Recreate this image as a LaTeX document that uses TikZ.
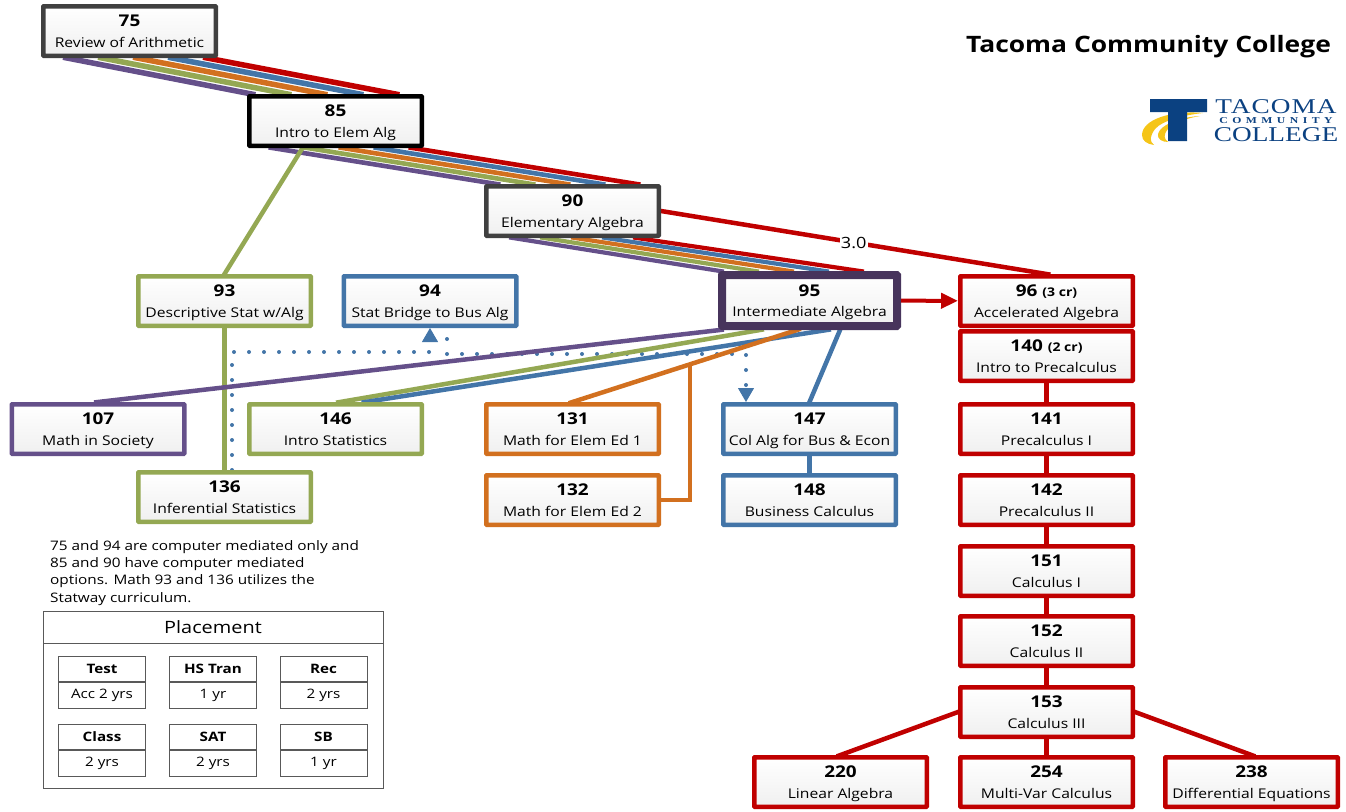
\documentclass[tikz,border=0pt]{standalone}
\usepackage{fontspec}
\setmainfont[FakeStretch=1.17]{Open Sans}
\newfontfamily\logofont[FakeStretch=1.3]{Liberation Serif}
\usetikzlibrary{arrows.meta,backgrounds,positioning}

\definecolor{ccRed}{HTML}{C00000}
\definecolor{ccBlue}{HTML}{4375A8}
\definecolor{ccOrange}{HTML}{D2701F}
\definecolor{ccOlive}{HTML}{94A853}
\definecolor{ccPurple}{HTML}{65508A}
\definecolor{ccDeep}{HTML}{47345C}
\definecolor{ccGray}{HTML}{404040}
\definecolor{ccNavy}{HTML}{0B4181}
\definecolor{ccGold}{HTML}{F5C518}

\newcommand{\course}[2]{{\fontsize{16.2}{21}\selectfont\bfseries #1}\\\smash{#2}}
\newcommand{\credits}[1]{\smash{\fontsize{12}{21}\selectfont #1}}

\tikzset{
	coursebox/.style={rectangle,draw=#1,line width=4.5pt,minimum width=172.5pt,minimum height=49.5pt,inner sep=0pt,
		align=center,top color=white,bottom color=black!6,rounded corners=.5pt,font=\fontsize{13.4}{20.6}\selectfont},
	link/.style={line width=4.5pt,shorten <=-4pt,shorten >=-4pt,#1},
	ribbon/.style={shorten <=-4pt,shorten >=-4pt,#1},
	dotted link/.style={line width=4pt,ccBlue,line cap=round,dash pattern=on 0pt off 15pt},
	cell/.style={rectangle,draw=black!65,line width=.9pt,minimum width=87pt,minimum height=25.5pt,inner sep=0pt,font=\fontsize{13}{16}\selectfont},
	cell head/.style={cell,font=\fontsize{13}{16}\selectfont\bfseries},
	panel/.style={rectangle,draw=black!65,line width=.9pt,minimum width=340pt,inner sep=0pt}
}

\begin{document}
\begin{tikzpicture}[x=1pt,y=-1pt]
	\useasboundingbox (0,0) rectangle (1346,811);

	\node[coursebox=ccGray] (n75) at (129.5,31) {\course{75}{Review of Arithmetic}};
	\node[coursebox=black] (n85) at (335.5,121) {\course{85}{Intro to Elem Alg}};
	\node[coursebox=ccGray] (n90) at (572.5,211) {\course{90}{Elementary Algebra}};
	\node[coursebox=ccOlive] (n93) at (224.5,301) {\course{93}{Descriptive Stat w/Alg}};
	\node[coursebox=ccBlue] (n94) at (430,301) {\course{94}{Stat Bridge to Bus Alg}};
	\node[coursebox=ccDeep,line width=8pt,minimum width=175pt,minimum height=51pt] (n95) at (809.5,300.5) {\course{95}{Intermediate Algebra}};
	\node[coursebox=ccRed] (n96) at (1046.5,301) {\course{96 \credits{(3 cr)}}{Accelerated Algebra}};
	\node[coursebox=ccRed] (n140) at (1046.5,356) {\course{140 \credits{(2 cr)}}{Intro to Precalculus}};
	\node[coursebox=ccPurple] (n107) at (98,429) {\course{107}{Math in Society}};
	\node[coursebox=ccOlive] (n146) at (335.5,429) {\course{146}{Intro Statistics}};
	\node[coursebox=ccOrange] (n131) at (572.5,429) {\course{131}{Math for Elem Ed 1}};
	\node[coursebox=ccBlue] (n147) at (809.5,429) {\course{147}{Col Alg for Bus \& Econ}};
	\node[coursebox=ccRed] (n141) at (1046.5,429) {\course{141}{Precalculus I}};
	\node[coursebox=ccOlive] (n136) at (224.5,497) {\course{136}{Inferential Statistics}};
	\node[coursebox=ccOrange] (n132) at (572.5,500) {\course{132}{Math for Elem Ed 2}};
	\node[coursebox=ccBlue] (n148) at (809.5,500) {\course{148}{Business Calculus}};
	\node[coursebox=ccRed] (n142) at (1046.5,500) {\course{142}{Precalculus II}};
	\node[coursebox=ccRed] (n151) at (1046.5,571) {\course{151}{Calculus I}};
	\node[coursebox=ccRed] (n152) at (1046.5,641) {\course{152}{Calculus II}};
	\node[coursebox=ccRed] (n153) at (1046.5,712) {\course{153}{Calculus III}};
	\node[coursebox=ccRed] (n220) at (840.5,782) {\course{220}{Linear Algebra}};
	\node[coursebox=ccRed] (n254) at (1046.5,782) {\course{254}{Multi-Var Calculus}};
	\node[coursebox=ccRed] (n238) at (1251.5,782) {\course{238}{Differential Equations}};

	\begin{pgfonlayer}{background}
		\draw[dotted link] ([xshift=7.5pt]n136.north) -- ++(0,-118) -| ([yshift=-13pt]n94.south);
		\draw[dotted link] ([xshift=17pt,yshift=-11pt]n94.south) -- ++(0,15) -| ([xshift=-63.5pt,yshift=14pt]n147.north);
		% the three bundles down from 75 to 95
		\foreach \col/\off in {ccRed/2,ccBlue/1,ccOrange/0,ccOlive/-1,ccPurple/-2} {
			\draw[ribbon=\col,line width=5.5pt] ([xshift=7.5pt+35pt*\off]n75.south) -- ([xshift=-12pt+36pt*\off]n85.north);
			\draw[ribbon=\col,line width=4.6pt] ([xshift=7pt+35pt*\off]n85.south) -- ([xshift=-6pt+35pt*\off]n90.north);
			\draw[ribbon=\col,line width=4.2pt] ([xshift=2.5pt+31pt*\off]n90.south) -- ([xshift=-19.5pt+35pt*\off]n95.north);
		}
		\draw[link=ccOlive] ([xshift=-33pt]n85.south) -- (n93.north);
		\draw[link=ccOlive] (n93) -- (n136);
		\draw[link=ccPurple] ([xshift=-89.5pt]n95.south) -- (n107.north);
		\draw[link=ccOlive] ([xshift=-49.5pt]n95.south) -- ([xshift=4.5pt]n146.north);
		\draw[link=ccBlue] ([xshift=17.5pt]n95.south) -- ([xshift=30pt]n146.north);
		\draw[link=ccOrange] ([xshift=-12.5pt]n95.south) -- coordinate[pos=.476] (split) (n131.north);
		\draw[link=ccOrange,shorten <=0pt] (split) |- (n132);
		\draw[link=ccBlue] ([xshift=30.5pt]n95.south) -- (n147.north);
		\draw[link=ccBlue] (n147) -- (n148);
		\draw[link=ccRed] (n140) -- (n141);
		\draw[link=ccRed] (n141) -- (n142);
		\draw[link=ccRed] (n142) -- (n151);
		\draw[link=ccRed] (n151) -- (n152);
		\draw[link=ccRed] (n152) -- (n153);
		\draw[link=ccRed] (n153) -- (n254);
		\draw[link=ccRed] (n153.west) -- (n220.north);
		\draw[link=ccRed] (n153.east) -- (n238.north);
		\draw[link=ccRed] (n90.east) -- node[text=black,fill=white,inner sep=1pt,font=\fontsize{15.5}{15}\selectfont] (credit) {3.0} (n96.north);
	\end{pgfonlayer}

	\draw[ccRed,line width=4pt,-{Triangle[length=17pt,width=15pt]}] (n95) -- (n96);
	\draw[-{Triangle[length=14pt,width=16pt]},ccBlue,line width=1pt] ([yshift=-13pt]n94.south) -- (n94.south);
	\draw[-{Triangle[length=14pt,width=16pt]},ccBlue,line width=1pt] ([xshift=-63.5pt,yshift=14pt]n147.north) -- ([xshift=-63.5pt]n147.north);

	% title and logo
	\node[font=\fontsize{22.6}{23}\selectfont\bfseries] (title) at (1148.5,47) {Tacoma Community College};
	\fill[ccGold] (1203,113) .. controls (1170,110) and (1142,120) .. (1142,135) .. controls (1142,141) and (1147,144) .. (1154,145) .. controls (1149,141) and (1150,136) .. (1155,129) .. controls (1163,120) and (1185,115) .. (1203,113);
	\fill[ccGold] (1200,116) .. controls (1180,117) and (1160,125) .. (1158,134) .. controls (1157,139) and (1162,142) .. (1168,142) .. controls (1164,139) and (1163,135) .. (1168,129) .. controls (1175,122) and (1188,118) .. (1200,116);
	\fill[ccNavy] (1150,99) -- (1207,99) -- (1207,112) -- (1187,112) -- (1187,141) -- (1168,141) -- (1168,112) -- (1150,112) -- cycle;
	\node[ccNavy,inner sep=0pt,font=\logofont\fontsize{21}{20}\selectfont\addfontfeature{LetterSpace=5}] (logotop) at (1276,107) {TACOMA};
	\node[ccNavy,inner sep=0pt,font=\logofont\bfseries\fontsize{9}{10}\selectfont\addfontfeature{LetterSpace=50}] (logomid) at (1276,121) {COMMUNITY};
	\node[ccNavy,inner sep=0pt,font=\logofont\fontsize{21}{20}\selectfont] (logolow) at (1276,135) {COLLEGE};

	% note and placement table
	\node[anchor=north west,inner sep=0pt,align=left,font=\fontsize{13.1}{17.4}\selectfont] (note) at (50,540) {75 and 94 are computer mediated only and\\85 and 90 have computer mediated\\options. Math 93 and 136 utilizes the\\Statway curriculum.};
	\node[panel,minimum height=32pt,font=\fontsize{17}{17}\selectfont] (placehead) at (213,627) {Placement};
	\node[panel,below=0pt of placehead,minimum height=145pt] (placebody) {};
	\node[cell head] (ptest) at (102,669) {Test};
	\node[cell,below=0pt of ptest] (ptestv) {Acc 2 yrs};
	\node[cell head] (phs) at (213,669) {HS Tran};
	\node[cell,below=0pt of phs] (phsv) {1 yr};
	\node[cell head] (prec) at (323.5,669) {Rec};
	\node[cell,below=0pt of prec] (precv) {2 yrs};
	\node[cell head] (pclass) at (102,737) {Class};
	\node[cell,below=0pt of pclass] (pclassv) {2 yrs};
	\node[cell head] (psat) at (213,737) {SAT};
	\node[cell,below=0pt of psat] (psatv) {2 yrs};
	\node[cell head] (psb) at (323.5,737) {SB};
	\node[cell,below=0pt of psb] (psbv) {1 yr};
\end{tikzpicture}
\end{document}
